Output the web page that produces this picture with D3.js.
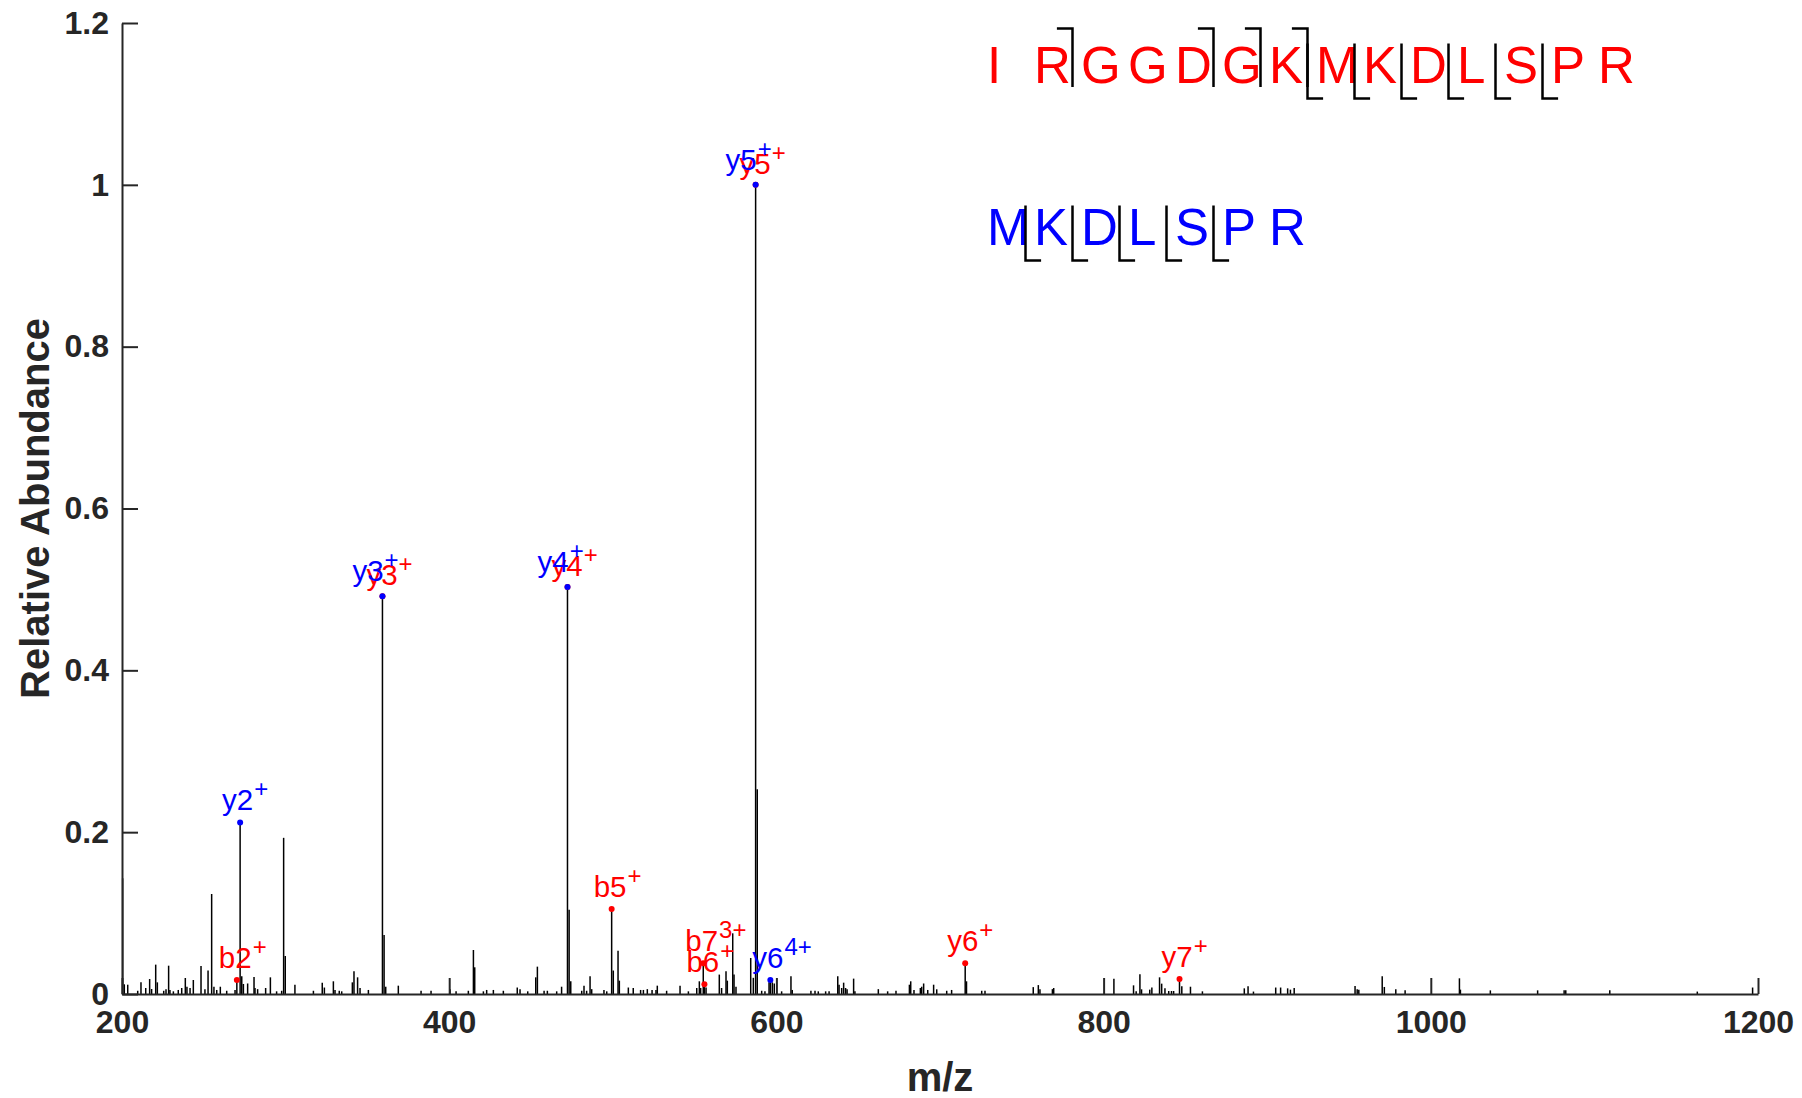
<!DOCTYPE html>
<html><head><meta charset="utf-8">
<script src="https://cdn.jsdelivr.net/npm/d3@7"></script>
<style>
html,body{margin:0;padding:0;background:#fff;}
svg{display:block;font-family:"Liberation Sans",Arial,Helvetica,sans-serif;}
</style></head><body>
<svg id="chart" width="1802" height="1098"></svg>
<script>
// ---------------- data ----------------
const xTicks = [200, 400, 600, 800, 1000, 1200];
const yTicks = [0, 0.2, 0.4, 0.6, 0.8, 1, 1.2];
const yTickLabels = ["0", "0.2", "0.4", "0.6", "0.8", "1", "1.2"];

const peakMz = [
  200.4, 201.4, 203.5, 209.6, 211.6, 214.5, 216.9, 218.1, 220.6, 221.6,
  225.5, 226.9, 228.5, 229.3, 231.4, 234.4, 236.5, 238.7, 239.7, 241.6,
  243.6, 248.3, 250.7, 252.6, 254.8, 256.2, 257.9, 260.1, 264.0, 269.1,
  270.2, 272.2, 273.2, 274.2, 276.8, 280.7, 281.3, 282.9, 287.8, 290.7,
  294.5, 297.6, 298.8, 299.8, 305.7, 317.0, 322.4, 323.7, 329.2, 330.2,
  332.8, 334.3, 340.8, 341.8, 344.0, 345.5, 350.6, 359.2, 360.2, 361.2,
  368.9, 382.8, 388.9, 400.5, 404.2, 411.7, 414.8, 415.6, 420.9, 422.9,
  427.0, 433.1, 441.6, 443.3, 448.0, 452.9, 453.9, 458.0, 460.0, 465.7,
  468.7, 472.3, 473.3, 474.3, 481.0, 482.4, 484.0, 486.1, 487.1, 494.6,
  496.3, 499.3, 500.3, 503.2, 504.0, 509.5, 512.5, 517.0, 518.7, 521.1,
  524.0, 526.4, 527.2, 532.9, 541.1, 546.2, 551.3, 552.9, 553.7, 555.3,
  556.0, 557.0, 565.1, 566.5, 569.2, 570.0, 573.3, 574.1, 575.3, 584.3,
  585.9, 587.3, 588.3, 591.0, 593.0, 595.5, 596.3, 597.5, 598.7, 603.2,
  608.9, 609.7, 621.1, 623.6, 625.6, 630.1, 632.2, 637.5, 638.3, 639.9,
  641.1, 642.3, 643.2, 647.2, 648.0, 662.3, 668.0, 673.1, 681.3, 682.1,
  684.1, 688.0, 688.8, 690.0, 692.5, 696.1, 698.0, 704.1, 707.1, 715.4,
  716.2, 725.5, 727.5, 757.0, 760.1, 761.1, 768.7, 769.5, 806.3, 818.3,
  819.9, 822.2, 823.2, 828.2, 829.5, 834.2, 835.5, 837.5, 839.8, 841.5,
  842.8, 846.4, 847.8, 853.1, 860.4, 886.0, 888.3, 891.6, 905.2, 908.2,
  912.5, 914.2, 916.5, 953.7, 955.0, 956.0, 970.3, 971.6, 978.6, 984.3,
  1017.5, 1018.1, 1036.4, 1065.3, 1081.5, 1082.5, 1109.4, 1162.9, 1196.7
];
const peakIntensity = [
  0.143, 0.012, 0.0115, 0.004, 0.0144, 0.0074, 0.0185, 0.0062, 0.0363, 0.0144,
  0.004, 0.006, 0.035, 0.005, 0.0033, 0.005, 0.0074, 0.0198, 0.009, 0.0074,
  0.0173, 0.0346, 0.006, 0.029, 0.1236, 0.009, 0.005, 0.009, 0.004, 0.005,
  0.0173, 0.212, 0.022, 0.0124, 0.013, 0.021, 0.0074, 0.006, 0.0074, 0.0206,
  0.0033, 0.004, 0.193, 0.047, 0.0115, 0.004, 0.014, 0.008, 0.0157, 0.005,
  0.004, 0.0033, 0.0144, 0.028, 0.0206, 0.0074, 0.005, 0.4915, 0.073, 0.009,
  0.0103, 0.004, 0.004, 0.006, 0.0033, 0.004, 0.0544, 0.033, 0.0033, 0.005,
  0.005, 0.004, 0.008, 0.006, 0.0033, 0.0206, 0.0338, 0.004, 0.004, 0.0033,
  0.009, 0.503, 0.104, 0.0157, 0.004, 0.0103, 0.004, 0.022, 0.006, 0.005,
  0.0033, 0.105, 0.029, 0.0535, 0.0165, 0.008, 0.0074, 0.005, 0.005, 0.006,
  0.005, 0.005, 0.0103, 0.004, 0.0103, 0.0033, 0.0074, 0.0157, 0.0074, 0.038,
  0.012, 0.008, 0.024, 0.0074, 0.028, 0.0165, 0.075, 0.024, 0.009, 0.0445,
  0.02, 1.0, 0.253, 0.004, 0.0033, 0.0144, 0.0173, 0.0144, 0.013, 0.0033,
  0.022, 0.005, 0.004, 0.004, 0.0033, 0.0033, 0.0033, 0.022, 0.0115, 0.0074,
  0.014, 0.0074, 0.006, 0.019, 0.0033, 0.006, 0.0033, 0.004, 0.0115, 0.0157,
  0.005, 0.0074, 0.009, 0.013, 0.005, 0.0115, 0.0058, 0.004, 0.005, 0.038,
  0.0157, 0.004, 0.004, 0.0085, 0.011, 0.006, 0.006, 0.0074, 0.019, 0.0107,
  0.0033, 0.0243, 0.0058, 0.0054, 0.008, 0.0206, 0.0128, 0.007, 0.0037, 0.0037,
  0.0037, 0.0185, 0.0095, 0.009, 0.0033, 0.007, 0.0095, 0.003, 0.008, 0.008,
  0.007, 0.0054, 0.0074, 0.01, 0.006, 0.0054, 0.022, 0.0087, 0.006, 0.0045,
  0.0194, 0.0054, 0.0045, 0.0045, 0.0045, 0.0045, 0.0045, 0.003, 0.008
];

// annotated fragment ions
const ionNames     = ["b2", "y3", "y4", "b5", "b7", "b6", "y5", "y6", "y7", "y2", "y3", "y4", "y5", "y6"];
const ionCharges   = ["+",  "+",  "+",  "+",  "3+", "+",  "+",  "+",  "+",  "+",  "+",  "+",  "+",  "4+"];
const ionMz        = [270.2, 359.2, 472.3, 499.3, 555.3, 556.0, 587.3, 715.4, 846.4, 272.2, 359.2, 472.3, 587.3, 596.3];
const ionIntensity = [0.0173, 0.4915, 0.503, 0.105, 0.038, 0.012, 1.0, 0.038, 0.0185, 0.212, 0.4915, 0.503, 1.0, 0.0173];
const ionPeptide   = ["alpha","alpha","alpha","alpha","alpha","alpha","alpha","alpha","alpha","beta","beta","beta","beta","beta"];

// peptide sequences and matched fragment cleavages
const alphaSeq = ["I","R","G","G","D","G","K","M","K","D","L","S","P","R"];
const betaSeq  = ["M","K","D","L","S","P","R"];
const alphaBIons = [2, 5, 6, 7];
const alphaYIons = [2, 3, 4, 5, 6, 7];
const betaYIons  = [2, 3, 4, 5, 6];

// ---------------- drawing ----------------
const W = 1802, H = 1098;
const margin = {left: 122, right: 44, top: 23, bottom: 104};
const axisColor = "#262626";
const colors = {alpha: "#ff0000", beta: "#0000ff"};

const svg = d3.select("#chart");
svg.append("rect").attr("width", W).attr("height", H).attr("fill", "#fff");

const x = d3.scaleLinear().domain([200, 1200]).range([margin.left, W - margin.right]);
const y = d3.scaleLinear().domain([0, 1.2]).range([H - margin.bottom, margin.top]);

// peaks
const peaks = peakMz.map((m, i) => ({mz: m, v: peakIntensity[i]}));
svg.append("g").selectAll("line").data(peaks).join("line")
  .attr("x1", d => x(d.mz)).attr("x2", d => x(d.mz))
  .attr("y1", y(0)).attr("y2", d => y(d.v))
  .attr("stroke", "#000").attr("stroke-width", 1.5);

// axes
const xAxis = d3.axisBottom(x).tickValues(xTicks).tickFormat(d3.format("d"))
  .tickSizeInner(-16).tickSizeOuter(0).tickPadding(16);
const yAxis = d3.axisLeft(y).tickValues(yTicks).tickFormat((d, i) => yTickLabels[i])
  .tickSizeInner(-16).tickSizeOuter(0).tickPadding(13);

const gx = svg.append("g").attr("transform", `translate(0,${y(0)})`).call(xAxis);
const gy = svg.append("g").attr("transform", `translate(${x(200)},0)`).call(yAxis);
[gx, gy].forEach(g => {
  g.select(".domain").attr("stroke", axisColor).attr("stroke-width", 2);
  g.selectAll(".tick line").attr("stroke", axisColor).attr("stroke-width", 2);
  g.selectAll(".tick text").attr("fill", axisColor)
    .style("font-family", '"Liberation Sans",Arial,sans-serif')
    .style("font-size", "32px").style("font-weight", "bold");
});

// axis titles
svg.append("text").attr("x", (x(200) + x(1200)) / 2).attr("y", 1091)
  .attr("text-anchor", "middle").attr("fill", axisColor)
  .style("font-size", "40px").style("font-weight", "bold").text("m/z");
svg.append("text")
  .attr("transform", `translate(49,${(y(0) + y(1.2)) / 2}) rotate(-90)`)
  .attr("text-anchor", "middle").attr("fill", axisColor)
  .style("font-size", "40px").style("font-weight", "bold").text("Relative Abundance");

// ion annotations
const ions = ionNames.map((n, i) => ({
  name: n, charge: ionCharges[i], mz: ionMz[i], v: ionIntensity[i], pep: ionPeptide[i]
}));
ions.forEach(d => {
  const shared = ions.some(o => o !== d && o.pep !== d.pep && Math.abs(o.mz - d.mz) < 0.5);
  if (!shared) { d.dx = -18; d.dy = -12.5; }
  else if (d.pep === "alpha") { d.dx = -16; d.dy = -11; }
  else { d.dx = -30; d.dy = -15; }
});
const ordered = ions.filter(d => d.pep === "alpha").concat(ions.filter(d => d.pep === "beta"));

const gAnn = svg.append("g");
ordered.forEach(d => {
  gAnn.append("circle").attr("cx", x(d.mz)).attr("cy", y(d.v)).attr("r", 3)
    .attr("fill", colors[d.pep]);
});
ordered.forEach(d => {
  const t = gAnn.append("text").attr("x", x(d.mz) + d.dx).attr("y", y(d.v) + d.dy)
    .attr("fill", colors[d.pep]).style("font-size", "29.5px");
  t.append("tspan").text(d.name);
  t.append("tspan").attr("dx", 1).attr("dy", -13).style("font-size", "24px").text(d.charge);
});

// sequences with fragment brackets
const letterX = d3.scaleLinear().domain([0, 1]).range([987, 1034]);
const seqRows = [
  {seq: alphaSeq, base: 83, color: colors.alpha, b: alphaBIons, yIons: alphaYIons},
  {seq: betaSeq, base: 245, color: colors.beta, b: [], yIons: betaYIons}
];
const arm = 15.6;
seqRows.forEach(row => {
  const g = svg.append("g");
  g.selectAll("text").data(row.seq).join("text")
    .attr("x", (d, i) => letterX(i)).attr("y", row.base)
    .attr("fill", row.color).style("font-size", "51px").text(d => d);
  row.b.forEach(n => {
    const bx = letterX(n) - 8.5;
    g.append("path")
      .attr("d", `M${bx - arm},${row.base - 54.4}L${bx},${row.base - 54.4}L${bx},${row.base + 4}`)
      .attr("fill", "none").attr("stroke", "#000").attr("stroke-width", 2.5);
  });
  row.yIons.forEach(n => {
    const bx = letterX(row.seq.length - n) - 8.5;
    g.append("path")
      .attr("d", `M${bx},${row.base - 39.5}L${bx},${row.base + 15.6}L${bx + arm},${row.base + 15.6}`)
      .attr("fill", "none").attr("stroke", "#000").attr("stroke-width", 2.5);
  });
});
</script>
</body></html>
